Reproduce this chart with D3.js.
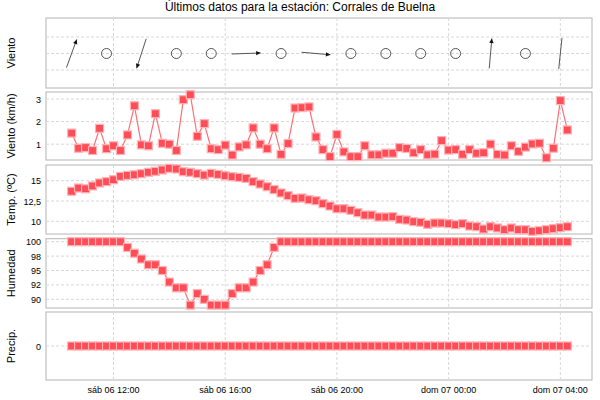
<!DOCTYPE html>
<html><head><meta charset="utf-8">
<script src="https://cdn.jsdelivr.net/npm/d3@7"></script>
<style>body{margin:0;background:#fff}svg{font-family:"Liberation Sans",Arial,sans-serif}</style>
</head><body><svg id="c" width="600" height="400"></svg>
<script>
const title = "Últimos datos para la estación: Corrales de Buelna";
const startTime = "2024-07-06T10:30";
const stepMinutes = 15;
const windSpeed = [1.49,0.82,0.85,0.72,1.7,0.8,0.93,0.72,1.41,2.7,0.97,0.93,2.35,1.04,1.0,0.72,2.97,3.19,1.35,1.91,0.8,0.76,0.96,0.52,0.88,0.97,1.72,1.0,0.8,1.72,0.55,1.03,2.6,2.62,2.65,1.32,0.76,0.45,1.43,0.66,0.45,0.45,0.93,0.53,0.53,0.6,0.6,0.85,0.81,0.62,0.76,0.53,0.56,1.16,0.74,0.76,0.55,0.76,0.6,0.62,1.0,0.55,0.52,0.93,0.68,0.87,1.01,1.04,0.4,0.82,2.93,1.63];
const temperature = [13.7,14.1,14.0,14.35,14.72,14.88,15.12,15.53,15.65,15.73,15.86,16.03,16.15,16.32,16.52,16.44,16.11,16.03,15.86,15.69,15.9,15.77,15.61,15.49,15.4,15.28,14.88,14.59,14.26,13.9,13.49,13.16,12.83,12.87,12.66,12.54,12.17,11.88,11.55,11.55,11.35,11.06,10.77,10.77,10.53,10.53,10.57,10.24,10.16,9.96,9.88,9.63,9.79,9.79,9.71,9.59,9.71,9.42,9.34,9.05,9.34,9.18,8.97,9.18,8.97,8.97,8.77,8.85,8.97,9.1,9.22,9.34];
const humidity = [100,100,100,100,100,100,100,100,99,98,97,96,96,95,93,92,92,89,91,90,89,89,89,91,92,92,93,95,96,99,100,100,100,100,100,100,100,100,100,100,100,100,100,100,100,100,100,100,100,100,100,100,100,100,100,100,100,100,100,100,100,100,100,100,100,100,100,100,100,100,100,100];
const precip = new Array(72).fill(0);
// wind direction glyphs every 75 minutes; null = calm
const dirStepMinutes = 75;
const windDirDeg = [20,null,198,null,null,88,null,95,null,null,null,null,5,null,6];
const windDirLen = [30,null,31,null,null,29,null,29,null,null,null,null,30,null,31];
const windDirArrow = [true,null,true,null,null,true,null,true,null,null,null,null,true,null,false];
const xTickTimes = ["2024-07-06T12:00","2024-07-06T16:00","2024-07-06T20:00","2024-07-07T00:00","2024-07-07T04:00"];
const xTickLabels = ["sáb 06 12:00","sáb 06 16:00","sáb 06 20:00","dom 07 00:00","dom 07 04:00"];
const humTicks = [100,97.5,95,92.5,90];
const humTickLabels = ["100","98","95","92","90"];
const tempTicks = [15,12.5,10];
const tempTickLabels = ["15","12,5","10"];

const svg = d3.select("#c");
const L = 46, R = 592;
const parse = d3.timeParse("%Y-%m-%dT%H:%M");
const t0 = parse(startTime);
const times = windSpeed.map((_, i) => d3.timeMinute.offset(t0, i * stepMinutes));
const tTicks = xTickTimes.map(parse);
const x = d3.scaleTime().domain([parse("2024-07-06T09:35"), parse("2024-07-07T05:08")]).range([L, R]);

svg.append("text").attr("x", 300).attr("y", 11).attr("text-anchor", "middle").attr("font-size", 12).text(title);

function panel(top, bot, label) {
  const g = svg.append("g");
  g.append("rect").attr("x", L).attr("y", top).attr("width", R - L).attr("height", bot - top)
    .attr("fill", "#fff").attr("stroke", "#b4b4b4");
  g.append("text").attr("transform", `translate(15,${(top + bot) / 2}) rotate(-90)`)
    .attr("text-anchor", "middle").attr("font-size", 11).text(label);
  return g;
}
function vgrid(g, top, bot, sc) {
  g.selectAll(null).data(tTicks).join("line")
    .attr("x1", d => sc(d)).attr("x2", d => sc(d)).attr("y1", top).attr("y2", bot)
    .attr("stroke", "#d8d8d8").attr("stroke-dasharray", "3,2");
}
function hgrid(g, y, ticks, labels) {
  g.selectAll(null).data(ticks).join("line")
    .attr("x1", L).attr("x2", R).attr("y1", d => y(d)).attr("y2", d => y(d))
    .attr("stroke", "#d8d8d8").attr("stroke-dasharray", "3,2");
  g.selectAll(null).data(ticks).join("text")
    .attr("x", L - 5).attr("y", d => y(d) + 3.5).attr("text-anchor", "end").attr("font-size", 9)
    .text((d, i) => labels ? labels[i] : d);
}
function series(g, y, vals) {
  const pts = vals.map((v, i) => [x(times[i]), y(v)]);
  g.append("path").attr("d", d3.line()(pts)).attr("fill", "none").attr("stroke", "#ff6f75").attr("stroke-width", 1.2);
  g.selectAll(null).data(pts).join("rect")
    .attr("x", d => d[0] - 4).attr("y", d => d[1] - 4).attr("width", 8).attr("height", 8)
    .attr("fill", "#ff4d57").attr("stroke", "#ffb3b7").attr("stroke-width", 1.2);
}

// Panel 1: wind direction
{
  const top = 18, bot = 88;
  const g = panel(top, bot, "Viento");
  vgrid(g, top, bot, x);
  [37, 53.5, 70].forEach(v => g.append("line").attr("x1", L).attr("x2", R).attr("y1", v).attr("y2", v)
    .attr("stroke", "#d8d8d8").attr("stroke-dasharray", "3,2"));
  const cy = 53.5;
  windDirDeg.forEach((d, i) => {
    const cx = x(d3.timeMinute.offset(t0, i * dirStepMinutes));
    if (d === null) {
      g.append("circle").attr("cx", cx).attr("cy", cy).attr("r", 5).attr("fill", "none").attr("stroke", "#555");
    } else {
      const a = d * Math.PI / 180, h = windDirLen[i] / 2;
      const dx = Math.sin(a) * h, dy = -Math.cos(a) * h;
      g.append("line").attr("x1", cx - dx).attr("y1", cy - dy).attr("x2", cx + dx).attr("y2", cy + dy)
        .attr("stroke", "#444").attr("stroke-width", 0.9);
      if (windDirArrow[i]) {
        const ux = dx / h, uy = dy / h, tx = cx + dx, ty = cy + dy;
        const p = [[tx, ty], [tx - ux * 4.5 - uy * 2.2, ty - uy * 4.5 + ux * 2.2], [tx - ux * 4.5 + uy * 2.2, ty - uy * 4.5 - ux * 2.2]];
        g.append("path").attr("d", d3.line()(p) + "Z").attr("fill", "#111");
      }
    }
  });
}
// Panel 2: wind speed
{
  const top = 92, bot = 160;
  const g = panel(top, bot, "Viento (km/h)");
  const y = d3.scaleLinear().domain([0.3, 3.31]).range([bot, top]);
  vgrid(g, top, bot, x); hgrid(g, y, [1, 2, 3]); series(g, y, windSpeed);
}
// Panel 3: temperature
{
  const top = 165, bot = 234;
  const g = panel(top, bot, "Temp. (ºC)");
  const y = d3.scaleLinear().domain([8.44, 16.93]).range([bot, top]);
  vgrid(g, top, bot, x); hgrid(g, y, tempTicks, tempTickLabels); series(g, y, temperature);
}
// Panel 4: humidity
{
  const top = 238.7, bot = 308;
  const g = panel(top, bot, "Humedad");
  const y = d3.scaleLinear().domain([88.5, 100.52]).range([bot, top]);
  vgrid(g, top, bot, x); hgrid(g, y, humTicks, humTickLabels); series(g, y, humidity);
}
// Panel 5: precipitation
{
  const top = 312, bot = 380;
  const g = panel(top, bot, "Precip.");
  const y = d3.scaleLinear().domain([-1, 1]).range([bot, top]);
  vgrid(g, top, bot, x); hgrid(g, y, [0]); series(g, y, precip);
  g.selectAll(null).data(tTicks).join("text").attr("x", d => x(d)).attr("y", 393)
    .attr("text-anchor", "middle").attr("font-size", 9).text((d, i) => xTickLabels[i]);
}
</script></body></html>
